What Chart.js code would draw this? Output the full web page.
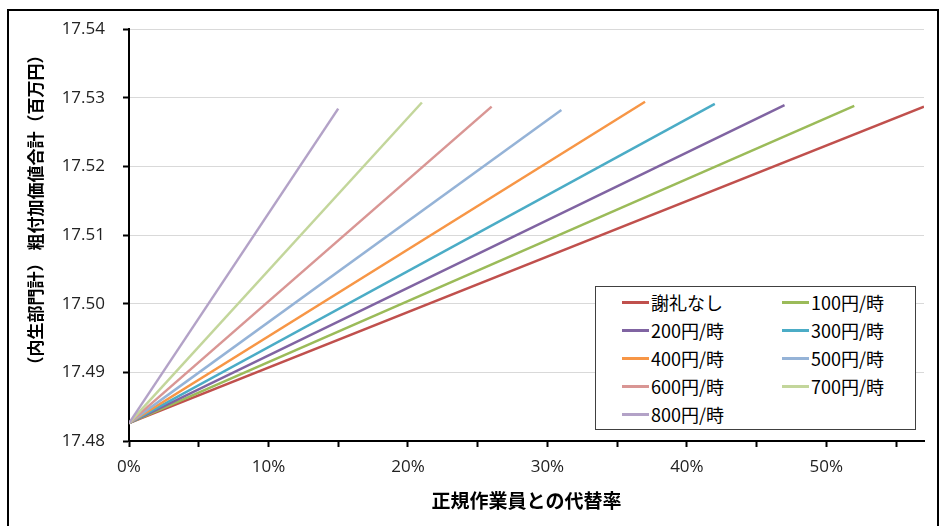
<!DOCTYPE html>
<html>
<head>
<meta charset="utf-8">
<script src="https://cdn.jsdelivr.net/npm/chart.js@4.4.0/dist/chart.umd.min.js"></script>
<style>
  body { margin: 0; background: #fff; }
  #wrap { position: relative; width: 947px; height: 526px; overflow: hidden; }
  #frame { position: absolute; left: 7px; top: 9px; width: 928px; height: 600px; border: 2px solid #000; }
  #chart { position: absolute; left: 0; top: 0; }
  #legend {
    position: absolute; left: 595px; top: 286px; width: 319px; height: 141px;
    border: 1px solid #404040; background: #fff;
    display: grid; grid-template-columns: 160px 160px; grid-auto-rows: 28px;
    padding-top: 1px; box-sizing: content-box;
    font-family: "Noto Sans CJK JP", sans-serif; font-size: 18px; color: #000;
  }
  .item { display: flex; align-items: center; padding-left: 26px; }
  .swatch { width: 27px; height: 3px; margin-right: 2px; }
</style>
</head>
<body>
<div id="wrap">
  <div id="frame"></div>
  <canvas id="chart" width="947" height="526"></canvas>
  <div id="legend"></div>
</div>
<script>
// series: substitution rate (%) at the end of each line, and the value there
var seriesNames = ["謝礼なし", "100円/時", "200円/時", "300円/時", "400円/時", "500円/時", "600円/時", "700円/時", "800円/時"];
var seriesColors = ["#C0504D", "#9BBB59", "#8064A2", "#4BACC6", "#F79646", "#95B3D7", "#D99694", "#C3D69B", "#B3A2C7"];
var startRate = 0;
var startValue = 17.4826;
var endRates = [57, 52, 47, 42, 37, 31, 26, 21, 15];
var endValues = [17.5287, 17.5288, 17.5289, 17.5291, 17.5294, 17.5282, 17.5287, 17.5293, 17.5284];

var xTitle = "正規作業員との代替率";
var yTitle = "（内生部門計） 粗付加価値合計（百万円）";

var datasets = [];
for (var i = 0; i < seriesNames.length; i++) {
    datasets.push({
        label: seriesNames[i],
        data: [{x: startRate, y: startValue}, {x: endRates[i], y: endValues[i]}],
        borderColor: seriesColors[i],
        backgroundColor: seriesColors[i],
        borderWidth: 2.5,
        pointRadius: 0,
        tension: 0,
        order: seriesNames.length - i
    });
}

// vertical y title, drawn a bit above the plot centre like the original
var yTitlePlugin = {
    id: "yTitle",
    afterDraw: function(chart) {
        var ctx = chart.ctx;
        ctx.save();
        ctx.translate(36, 210);
        ctx.rotate(-Math.PI / 2);
        ctx.font = "bold 17px 'Noto Sans CJK JP'";
        ctx.fillStyle = "#000";
        ctx.textAlign = "center";
        ctx.textBaseline = "middle";
        ctx.fillText(yTitle, 0, 0);
        ctx.restore();
    }
};

var tickFont = {family: "'Open Sans'", size: 17};

var ctx = document.getElementById("chart").getContext("2d");
var chart = new Chart(ctx, {
    type: "line",
    data: {datasets: datasets},
    plugins: [yTitlePlugin],
    options: {
        responsive: false,
        animation: false,
        layout: {padding: {top: 29, right: 23, bottom: 0, left: 0}},
        plugins: {legend: {display: false}, tooltip: {enabled: false}},
        scales: {
            x: {
                type: "linear",
                min: 0,
                max: 57,
                afterFit: function(scale) { scale.height = 85; },
                border: {color: "#000", width: 2},
                grid: {drawOnChartArea: false, tickColor: "#000", tickLength: 6, tickWidth: 2},
                ticks: {
                    stepSize: 5,
                    includeBounds: false,
                    autoSkip: false,
                    maxRotation: 0,
                    padding: 10,
                    color: "#222",
                    font: tickFont,
                    callback: function(v) { return v % 10 === 0 ? v + "%" : ""; }
                },
                title: {
                    display: true,
                    text: xTitle,
                    color: "#000",
                    font: {family: "'Noto Sans CJK JP'", size: 19, weight: "bold"},
                    padding: {top: 0, bottom: 14}
                }
            },
            y: {
                min: 17.48,
                max: 17.54,
                afterFit: function(scale) { scale.width = 129; },
                border: {color: "#000", width: 2},
                grid: {color: "#D9D9D9", lineWidth: 1, tickColor: "#000", tickLength: 6, tickWidth: 2},
                ticks: {
                    stepSize: 0.01,
                    padding: 18,
                    color: "#222",
                    font: tickFont,
                    callback: function(v) { return v.toFixed(2); }
                }
            }
        }
    }
});

// legend box inside the plot, two columns
var legend = document.getElementById("legend");
chart.data.datasets.forEach(function(ds) {
    var item = document.createElement("div");
    item.className = "item";
    var sw = document.createElement("span");
    sw.className = "swatch";
    sw.style.background = ds.borderColor;
    var txt = document.createElement("span");
    txt.textContent = ds.label;
    item.appendChild(sw);
    item.appendChild(txt);
    legend.appendChild(item);
});
</script>
</body>
</html>
